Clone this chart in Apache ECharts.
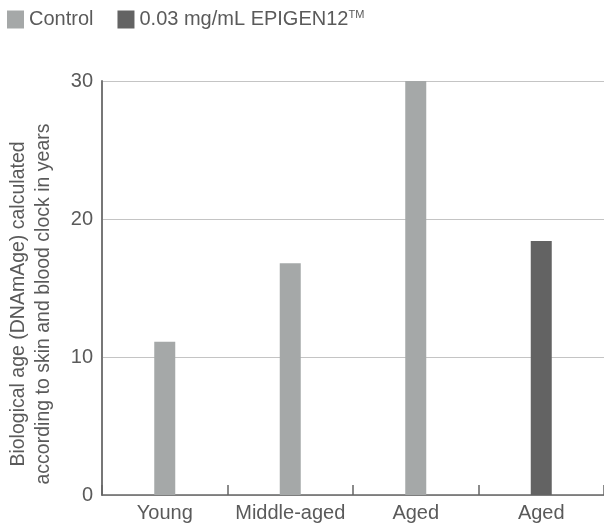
<!DOCTYPE html>
<html>
<head>
<meta charset="utf-8">
<script src="https://cdn.jsdelivr.net/npm/echarts@6/dist/echarts.min.js"></script>
<style>html,body{margin:0;padding:0;background:#fff}#c{width:604px;height:528px}</style>
</head>
<body>
<div id="c"></div>
<script>
var categories = ['Young', 'Middle-aged', 'Aged', 'Aged'];
var controlValues = [11.1, 16.8, 30.0, null];
var epigenValues = [null, null, null, 18.4];
var yTicks = [0, 10, 20, 30];
var seriesNames = ['Control', '0.03 mg/mL EPIGEN12™'];

var chart = echarts.init(document.getElementById('c'), null, {renderer: 'canvas'});
var font = 'Liberation Sans, Arial, Helvetica, sans-serif';
chart.setOption({
  animation: false,
  textStyle: {fontFamily: font},
  legend: {
    left: 7, top: 9, padding: 0,
    itemWidth: 17, itemHeight: 18, itemGap: 24,
    icon: 'rect',
    textStyle: {fontSize: 20, color: '#5a5a5a', fontFamily: font,
      rich: {sup: {fontSize: 11, verticalAlign: 'top', padding: [0,0,10,0], color: '#5a5a5a'}}},
    formatter: function (n) {
      if (n.indexOf('™') >= 0) return n.replace('™', '') + '{sup|TM}';
      return n;
    },
    data: seriesNames
  },
  grid: {left: 102, right: 0, top: 81, bottom: 33, containLabel: false, outerBoundsMode: 'none'},
  xAxis: {
    type: 'category',
    data: categories,
    axisLine: {lineStyle: {color: '#666', width: 1.5}},
    axisTick: {show: true, inside: true, interval: 0, length: 10, lineStyle: {color: '#666', width: 1.5}},
    axisLabel: {interval: 0, hideOverlap: false, fontSize: 20, color: '#5a5a5a', margin: 8, fontFamily: font}
  },
  yAxis: {
    type: 'value',
    min: yTicks[0], max: yTicks[yTicks.length - 1], interval: 10,
    name: 'Biological age (DNAmAge) calculated\naccording to skin and blood clock in years',
    nameLocation: 'middle',
    nameGap: 46,
    nameTextStyle: {fontSize: 19.5, color: '#5a5a5a', lineHeight: 25, fontFamily: font, padding: [0, 32, 0, 0]},
    axisLine: {show: true, lineStyle: {color: '#777', width: 2}},
    axisTick: {show: false},
    axisLabel: {fontSize: 20, color: '#5a5a5a', margin: 9, fontFamily: font},
    splitLine: {lineStyle: {color: '#c4c4c4', width: 1}}
  },
  series: [
    {name: seriesNames[0], type: 'bar', data: controlValues, barWidth: 21, barGap: '-100%',
     itemStyle: {color: '#a5a8a8'}},
    {name: seriesNames[1], type: 'bar', data: epigenValues, barWidth: 21,
     itemStyle: {color: '#636363'}}
  ]
});
</script>
</body>
</html>
